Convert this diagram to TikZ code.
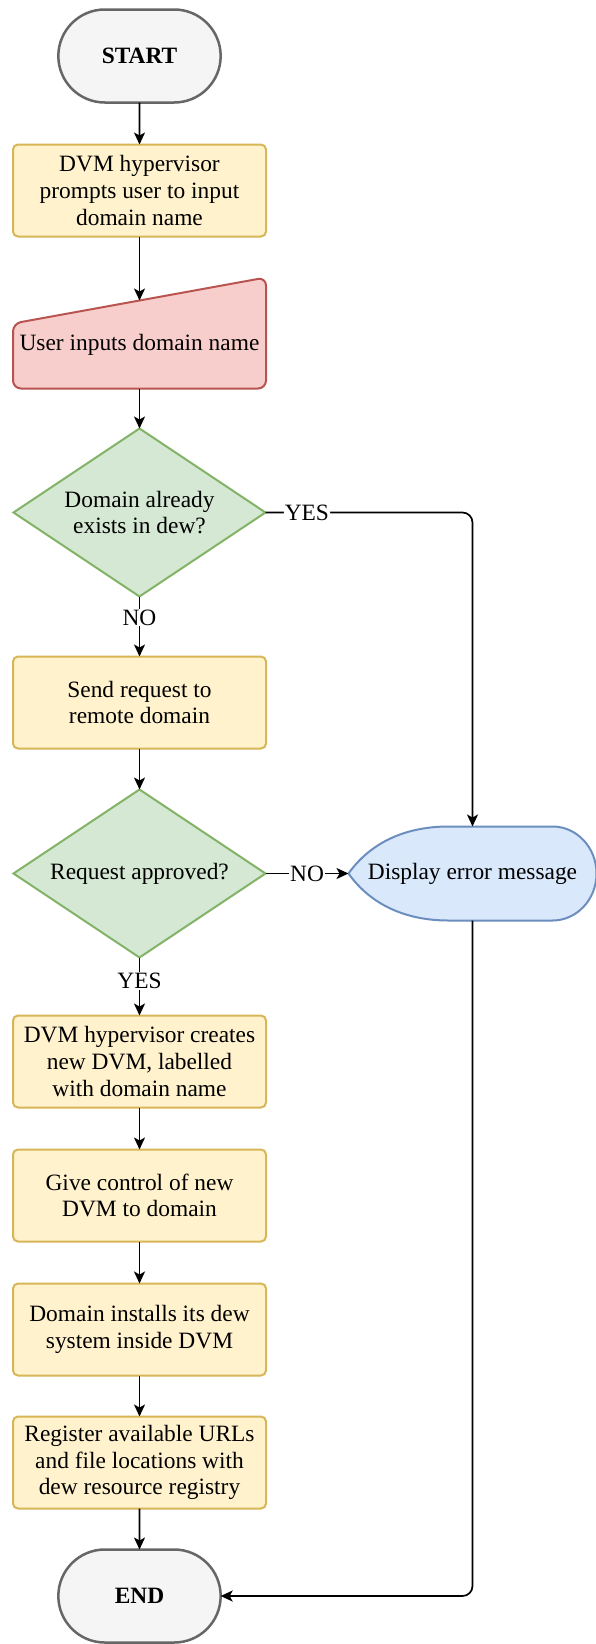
\documentclass[tikz,border=0pt]{standalone}
\usepackage{fontspec}
\setmainfont{Liberation Serif}
\usetikzlibrary{positioning,shapes.geometric,shapes.misc,arrows.meta,backgrounds}
\definecolor{termfill}{HTML}{F5F5F5}
\definecolor{termline}{HTML}{666666}
\definecolor{procfill}{HTML}{FFF2CC}
\definecolor{procline}{HTML}{D6B656}
\definecolor{inpfill}{HTML}{F8CECC}
\definecolor{inpline}{HTML}{B85450}
\definecolor{decfill}{HTML}{D5E8D4}
\definecolor{decline}{HTML}{82B366}
\definecolor{dispfill}{HTML}{DAE8FC}
\definecolor{displine}{HTML}{6C8EBF}

\begin{document}
\begin{tikzpicture}[%
    x=1pt,y=1pt,->,>={Stealth[length=12pt,width=11pt,inset=3pt]},line width=1.7pt,
    node distance=42pt,font=\fontsize{23.4}{26.7}\selectfont,
    every node/.style={outer sep=0pt},
    term/.style={%
      rounded rectangle,minimum width=169pt,minimum height=93pt,draw=termline,
      fill=termfill,line width=2.5pt,font=\fontsize{23.4}{26.7}\selectfont\bfseries},
    process/.style={%
      rectangle,rounded corners=5pt,minimum width=253pt,minimum height=92pt,
      inner sep=0pt,draw=procline,fill=procfill,line width=2pt,align=center},
    decision/.style={%
      diamond,aspect=1.5,minimum width=252pt,minimum height=168pt,inner sep=0pt,
      draw=decline,fill=decfill,line width=2pt,align=center},
    textonly/.style={rectangle,inner sep=0pt},
    inputbox/.style={-,rounded corners=8pt,draw=inpline,fill=inpfill,line width=2pt},
    dispbox/.style={-,draw=displine,fill=dispfill,line width=2pt},
    answer/.style={fill=white,inner sep=1pt}
  ]
    \useasboundingbox[-] (0,0) rectangle (596,-1644);

    \node[term] (start) at (139.5,-56)                              {START};
    \node[process] (prompt) [below=of start]                         {DVM hypervisor\\prompts user to input\\domain name};
    \node[textonly,minimum width=253pt,minimum height=88pt] (userin)
      [node distance=64pt, below=of prompt]                          {User inputs domain name};
    \node[decision] (exists) [node distance=40pt, below=of userin]   {Domain already\\exists in dew?};
    \node[process] (request) [node distance=60pt, below=of exists]   {Send request to\\remote domain};
    \node[decision] (approved) [node distance=41pt, below=of request] {Request approved?};
    \node[textonly,minimum width=248pt,minimum height=94pt] (error)
      [node distance=83pt, right=of approved]                        {Display error message};
    \node[process] (create) [node distance=58pt, below=of approved]  {DVM hypervisor creates\\new DVM, labelled\\with domain name};
    \node[process] (control) [below=of create]                       {Give control of new\\DVM to domain};
    \node[process] (install) [below=of control]                      {Domain installs its dew\\system inside DVM};
    \node[process] (register) [node distance=41pt, below=of install] {Register available URLs\\and file locations with\\dew resource registry};
    \node[term] (end) [node distance=41pt, below=of register]        {END};

    \begin{scope}[on background layer]
      \draw[inputbox] (userin.south west) -- ([yshift=-23pt]userin.north west)
        -- ([yshift=23pt]userin.north east) -- (userin.south east) -- cycle;
      \draw[dispbox] (error.west)
        .. controls ([xshift=22pt,yshift=-16pt]error.north west) and ([xshift=57pt]error.north west)
        .. ([xshift=100pt]error.north west) -- ([xshift=-44pt]error.north east)
        arc[start angle=90,end angle=-90,x radius=44pt,y radius=47pt]
        -- ([xshift=100pt]error.south west)
        .. controls ([xshift=57pt]error.south west) and ([xshift=22pt,yshift=16pt]error.south west)
        .. (error.west) -- cycle;
    \end{scope}

    \path (start)    edge                               (prompt)
          (prompt)   edge                               (userin)
          (userin)   edge                               (exists)
          (exists)   edge node[answer,pos=0.35] {NO}    (request)
          (request)  edge                               (approved)
          (approved) edge node[answer] {NO}             (error)
          (approved) edge node[answer,pos=0.4] {YES}    (create)
          (create)   edge                               (control)
          (control)  edge                               (install)
          (install)  edge                               (register)
          (register) edge                               (end)
          ;
    \draw[rounded corners=10pt] (exists) -| node[answer,pos=0.1] {YES} (error);
    \draw[rounded corners=10pt] (error) |- (end);
\end{tikzpicture}
\end{document}
